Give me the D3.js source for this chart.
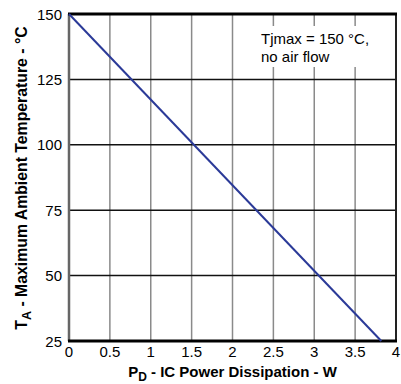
<!DOCTYPE html>
<html>
<head>
<meta charset="utf-8">
<script src="https://cdn.jsdelivr.net/npm/d3@7"></script>
<style>
  body { margin: 0; background: #fff; }
  text { font-family: "Liberation Sans", Arial, sans-serif; fill: #000; }
</style>
</head>
<body>
<svg id="chart" width="401" height="384"></svg>
<script>
// derating line
var powerW = [0, 3.82];
var ambientC = [150, 25];
var xTicks = [0, 0.5, 1, 1.5, 2, 2.5, 3, 3.5, 4];
var yTicks = [25, 50, 75, 100, 125, 150];
var noteLines = ['Tjmax = 150 °C,', 'no air flow'];

var svg = d3.select('#chart'),
    plotL = 69, plotR = 396, plotT = 14, plotB = 341;

var x = d3.scaleLinear().domain([0, 4]).range([plotL, plotR]);
var y = d3.scaleLinear().domain([25, 150]).range([plotB, plotT]);

// vertical grid (grey)
svg.append('g').selectAll('line')
    .data(xTicks.slice(1, -1))
    .enter().append('line')
    .attr('x1', d => x(d)).attr('x2', d => x(d))
    .attr('y1', plotT).attr('y2', plotB)
    .attr('stroke', '#8a8a8a').attr('stroke-width', 1.5);

// horizontal grid (black)
svg.append('g').selectAll('line')
    .data(yTicks.slice(1, -1))
    .enter().append('line')
    .attr('x1', plotL).attr('x2', plotR)
    .attr('y1', d => y(d)).attr('y2', d => y(d))
    .attr('stroke', '#111').attr('stroke-width', 1.5);

// note box hides the grid behind the text
svg.append('rect')
    .attr('x', 257).attr('y', 26)
    .attr('width', plotR - 258).attr('height', 41)
    .attr('fill', '#fff');

svg.append('text')
    .attr('x', 261).attr('y', 44)
    .style('font-size', '15px')
    .selectAll('tspan')
    .data(noteLines)
    .enter().append('tspan')
    .attr('x', 261)
    .attr('dy', (d, i) => i ? 18 : 0)
    .text(d => d);

// frame
svg.append('line').attr('x1', x(0)).attr('x2', x(0)).attr('y1', plotT).attr('y2', plotB)
    .attr('stroke', '#666').attr('stroke-width', 2.5);
svg.append('line').attr('x1', x(4)).attr('x2', x(4)).attr('y1', plotT).attr('y2', plotB)
    .attr('stroke', '#222').attr('stroke-width', 2);
svg.append('line').attr('x1', plotL - 1).attr('x2', plotR + 1).attr('y1', y(150)).attr('y2', y(150))
    .attr('stroke', '#000').attr('stroke-width', 3);
svg.append('line').attr('x1', plotL - 1).attr('x2', plotR + 1).attr('y1', y(25)).attr('y2', y(25))
    .attr('stroke', '#000').attr('stroke-width', 3);

// the curve
var line = d3.line().x(d => x(d[0])).y(d => y(d[1]));
svg.append('path')
    .datum(d3.zip(powerW, ambientC))
    .attr('d', line)
    .attr('fill', 'none')
    .attr('stroke', '#2b3a98')
    .attr('stroke-width', 2);

// tick labels
svg.append('g').selectAll('text')
    .data(xTicks)
    .enter().append('text')
    .attr('x', d => x(d)).attr('y', 357)
    .attr('text-anchor', 'middle')
    .style('font-size', '15px')
    .text(d => d);

svg.append('g').selectAll('text')
    .data(yTicks)
    .enter().append('text')
    .attr('x', 62).attr('y', d => y(d) + 5.5)
    .attr('text-anchor', 'end')
    .style('font-size', '15px')
    .text(d => d);

// axis titles with subscripts
var xt = svg.append('text')
    .attr('x', (plotL + plotR) / 2).attr('y', 377)
    .attr('text-anchor', 'middle')
    .style('font-size', '15px').style('font-weight', 'bold');
xt.append('tspan').text('P');
xt.append('tspan').attr('dy', 4).style('font-size', '12px').text('D');
xt.append('tspan').attr('dy', -4).text(' - IC Power Dissipation - W');

var yt = svg.append('text')
    .attr('transform', 'translate(27,' + 178 + ') rotate(-90)')
    .attr('text-anchor', 'middle')
    .style('font-size', '15.8px').style('font-weight', 'bold');
yt.append('tspan').text('T');
yt.append('tspan').attr('dy', 4).style('font-size', '12.5px').text('A');
yt.append('tspan').attr('dy', -4).text(' - Maximum Ambient Temperature - °C');
</script>
</body>
</html>
